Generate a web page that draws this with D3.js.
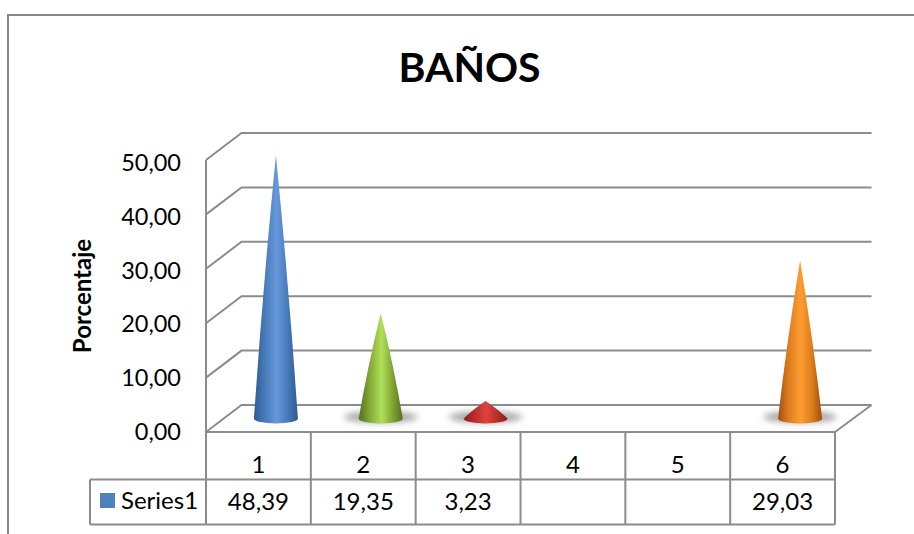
<!DOCTYPE html>
<html>
<head>
<meta charset="utf-8">
<script src="https://cdn.jsdelivr.net/npm/d3@7"></script>
<style>
html,body{margin:0;padding:0;background:#fff}
svg{display:block}
text{font-family:Lato,"Open Sans",sans-serif;fill:#000}
</style>
</head>
<body>
<svg id="chart" width="914" height="534"></svg>
<script>
// Percentages per number of bathrooms; categories 4 and 5 have no value
const categories = ["1","2","3","4","5","6"];
const seriesValues = [48.39,19.35,3.23,null,null,29.03];
const seriesName = "Series1";
const yTicks = [0,10,20,30,40,50];
const coneColors = [
  {edge:"#2f5a8e",side:"#4478b6",mid:"#6799dc"},
  {edge:"#54701f",side:"#7ea233",mid:"#b0e058"},
  {edge:"#8a1e1b",side:"#b42d29",mid:"#de423e"},
  null,null,
  {edge:"#9c4f0d",side:"#dc7a1c",mid:"#fd9d30"}
];

const svg = d3.select("#chart");
const gridColor = "#8c8c8c";
const comma = v => d3.format(".2f")(v).replace(".",",");

const plot = {left:206,right:835,top:160,bottom:432,dx:35.5,dy:27};
const x = d3.scaleBand().domain(categories).range([plot.left,plot.right]);
const y = d3.scaleLinear().domain([0,50]).range([plot.bottom,plot.top]);
// Baselines of the value-axis labels
const yLabel = d3.scaleLinear().domain([0,50]).range([440,171]);

// Outer chart frame, clipped by the window on the right and the bottom
svg.append("path")
  .attr("d","M8,534V15H914")
  .attr("fill","none").attr("stroke","#868686").attr("stroke-width",2);

svg.append("text").attr("x",469.5).attr("y",82)
  .attr("text-anchor","middle").attr("font-weight",700).attr("font-size",41)
  .text("BAÑOS");

// Walls: one bent line per tick, plus the vertical edge and the floor
const walls = svg.append("g").attr("fill","none").attr("stroke",gridColor).attr("stroke-width",2);
walls.selectAll("path.grid").data(yTicks).join("path").attr("class","grid")
  .attr("d",t=>`M${plot.left},${y(t)}L${plot.left+plot.dx},${y(t)-plot.dy}H${plot.right+plot.dx+1}`);
walls.append("line").attr("x1",plot.left).attr("x2",plot.left).attr("y1",y(50)).attr("y2",y(0));
walls.append("path")
  .attr("d",`M${plot.right},${y(0)}L${plot.right+plot.dx+1},${y(0)-plot.dy}`);

svg.append("g").selectAll("text").data(yTicks).join("text")
  .attr("x",181).attr("y",t=>yLabel(t))
  .attr("text-anchor","end").attr("font-size",23.5)
  .text(comma);

svg.append("text")
  .attr("transform","translate(91,296) rotate(-90)")
  .attr("text-anchor","middle").attr("font-weight",700).attr("font-size",24)
  .text("Porcentaje");

// Horizontal shading for each cone and a soft floor shadow
const defs = svg.append("defs");
coneColors.forEach((c,i)=>{
  if(!c) return;
  const g = defs.append("linearGradient").attr("id","cone"+i);
  [[0,c.edge],[22,c.side],[52,c.mid],[78,c.side],[100,c.edge]].forEach(([o,col])=>
    g.append("stop").attr("offset",o+"%").attr("stop-color",col));
});
defs.append("filter").attr("id","soft").attr("x","-30%").attr("y","-80%").attr("width","160%").attr("height","260%")
  .append("feGaussianBlur").attr("stdDeviation",3);

const rx = 22, ry = 5;
const depthY = 13.5;
const cones = categories.map((c,i)=>({c,i,v:seriesValues[i]})).filter(d=>d.v!=null);
const coneG = svg.append("g").selectAll("g").data(cones).join("g");
// The tallest cone casts no visible shadow on the floor
coneG.filter(d=>d.i>0).append("ellipse")
  .attr("cx",d=>x(d.c)+x.bandwidth()/2+17.5)
  .attr("cy",y(0)-depthY-1.5)
  .attr("rx",37).attr("ry",6)
  .attr("fill","#666").attr("opacity",.55).attr("filter","url(#soft)");
// Flanks bow out slightly, as the rendered cones do
coneG.append("path")
  .attr("fill",d=>`url(#cone${d.i})`)
  .attr("d",d=>{
    const cx = x(d.c)+x.bandwidth()/2+17.5, by = y(0)-depthY;
    const tip = y(d.v)-depthY, my = (tip+by)/2, bow = rx/2+2;
    return `M${cx},${tip}Q${cx+bow},${my} ${cx+rx},${by}A${rx},${ry} 0 0 1 ${cx-rx},${by}Q${cx-bow},${my} ${cx},${tip}Z`;
  });

// Data table below the floor
const rows = {top:plot.bottom,mid:479.5,bottom:524.5};
const table = svg.append("g").attr("fill","none").attr("stroke",gridColor).attr("stroke-width",2);
table.append("path").attr("d",`M90,${rows.mid}H${plot.right}M90,${rows.bottom}H${plot.right}M90,${rows.mid}V${rows.bottom}`);
table.selectAll("line").data(d3.range(7)).join("line")
  .attr("x1",i=>plot.left+i*x.bandwidth()).attr("x2",i=>plot.left+i*x.bandwidth())
  .attr("y1",rows.top).attr("y2",rows.bottom);
table.append("line").attr("x1",plot.left).attr("x2",plot.right).attr("y1",rows.top).attr("y2",rows.top);

svg.append("g").selectAll("text").data(categories).join("text")
  .attr("x",c=>x(c)+x.bandwidth()/2).attr("y",473)
  .attr("text-anchor","middle").attr("font-size",24).text(c=>c);
svg.append("g").selectAll("text").data(cones).join("text")
  .attr("x",d=>x(d.c)+x.bandwidth()/2).attr("y",510)
  .attr("text-anchor","middle").attr("font-size",24).text(d=>comma(d.v));

svg.append("rect").attr("x",100).attr("y",493).attr("width",15).attr("height",15).attr("fill","#4f81bd");
svg.append("text").attr("x",121).attr("y",508.5).attr("font-size",24).text(seriesName);
</script>
</body>
</html>
